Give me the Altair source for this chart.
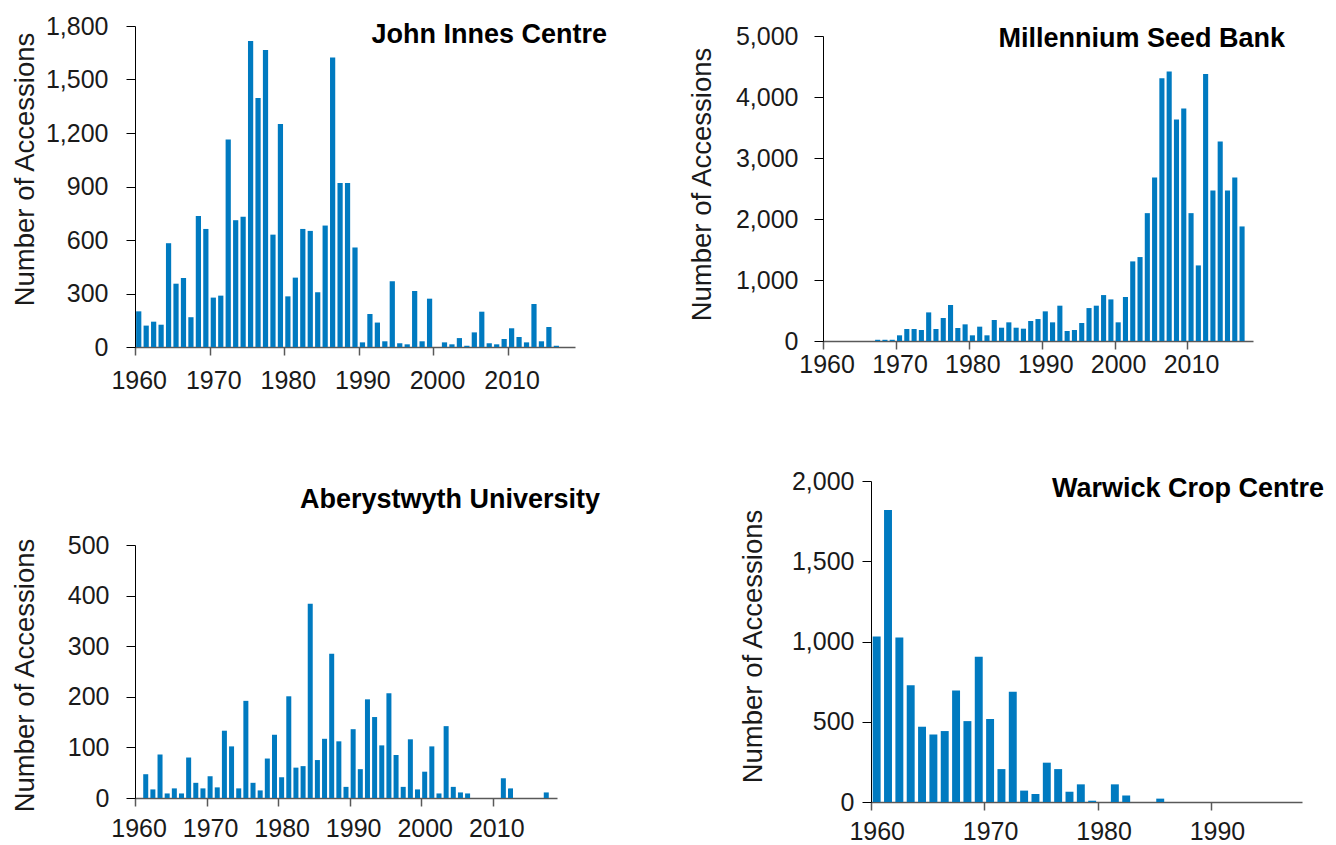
import altair as alt
import pandas as pd

# ---------------- data ----------------
years_jic = list(range(1960, 2017))
values_jic = [200, 120, 142, 125, 582, 355, 387, 167, 735, 662,
              277, 288, 1164, 711, 730, 1716, 1396, 1665, 630, 1250,
              284, 389, 662, 651, 307, 681, 1624, 919, 919, 558,
              26, 185, 137, 32, 369, 21, 15, 314, 32, 271,
              0, 26, 15, 50, 7, 82, 198, 21, 15, 45,
              105, 56, 26, 241, 32, 112, 7]

years_msb = list(range(1960, 2018))
values_msb = [0, 0, 0, 0, 0, 0, 0, 20, 20, 20,
              93, 197, 197, 180, 469, 197, 377, 590, 213, 273,
              93, 235, 93, 344, 218, 306, 218, 202, 328, 360,
              486, 306, 579, 164, 180, 295, 540, 579, 753, 682,
              306, 721, 1305, 1376, 2096, 2680, 4307, 4416, 3630, 3810,
              2096, 1239, 4378, 2467, 3270, 2467, 2680, 1878]

years_aber = list(range(1960, 2018))
values_aber = [0, 47, 17, 86, 9, 19, 9, 80, 30, 19,
               43, 21, 133, 102, 19, 192, 30, 15, 78, 125,
               41, 201, 60, 63, 384, 75, 117, 285, 112, 22,
               136, 57, 195, 160, 104, 207, 85, 22, 116, 17,
               52, 102, 9, 142, 22, 11, 9, 0, 0, 0,
               0, 39, 19, 0, 0, 0, 0, 11]

years_wcc = list(range(1960, 1986))
values_wcc = [1031, 1819, 1025, 728, 469, 421, 442, 695, 504, 905,
              517, 205, 687, 71, 50, 245, 205, 64, 110, 8,
              0, 110, 41, 0, 0, 21]

titles = ["John Innes Centre", "Millennium Seed Bank",
          "Aberystwyth University", "Warwick Crop Centre"]
y_title = "Number of Accessions"

FONT = "Liberation Sans"
BAR = "#007AC0"
TXT = "#1a1a1a"


def panel(years, values, title, xmax, xticks, ymax, ystep, width, height,
          ytop, xlabpad, xlaboff, ylabpad, tdx, tdy, ytx, yty):
    df = pd.DataFrame({"year": years, "count": values})
    return (
        alt.Chart(
            df,
            title=alt.TitleParams(
                text=title, anchor="end", frame="group", orient="top",
                font=FONT, fontSize=27, fontWeight="bold", color="#000000",
                baseline="alphabetic", offset=0, dx=tdx, dy=tdy,
            ),
        )
        .transform_calculate(x0="datum.year + 0.15", x1="datum.year + 0.85")
        .mark_bar(color=BAR)
        .encode(
            x=alt.X(
                "x0:Q",
                scale=alt.Scale(domain=[1960, xmax], nice=False, zero=False),
                axis=alt.Axis(
                    values=xticks, format="d", title=None, grid=False,
                    labelFont=FONT, labelFontSize=25, labelColor=TXT,
                    labelFlush=False, labelOverlap=False,
                    labelPadding=xlabpad, labelOffset=xlaboff, tickSize=8,
                    domainColor="#595959", tickColor="#595959",
                    domainWidth=1.5, tickWidth=1.5,
                ),
            ),
            x2="x1:Q",
            y=alt.Y(
                "count:Q",
                scale=alt.Scale(domain=[0, ymax], nice=False, range=[height, ytop]),
                axis=alt.Axis(
                    values=list(range(0, ymax + 1, ystep)), format=",d",
                    title=y_title, grid=False,
                    labelFont=FONT, labelFontSize=25, labelColor=TXT,
                    labelPadding=ylabpad, tickSize=9,
                    domainColor="#000000", tickColor="#000000",
                    titleFont=FONT, titleFontSize=27.5, titleFontWeight="normal",
                    titleColor=TXT, titleAngle=270, titleAlign="center",
                    titleBaseline="middle", titleX=ytx, titleY=yty,
                ),
            ),
            y2=alt.datum(0),
        )
        .properties(width=width, height=height)
    )


dec3 = [1960, 1970, 1980, 1990, 2000, 2010]
p1 = panel(years_jic, values_jic, titles[0], 2019, dec3, 1800, 300, 440, 321, 0,
           13, 3.7, 18, 32, 56, -110, 143)
p2 = panel(years_msb, values_msb, titles[1], 2019, dec3, 5000, 1000, 430, 315, 10,
           3, 3.6, 16, 32, 50, -121, 158)
p3 = panel(years_aber, values_aber, titles[2], 2019, dec3, 500, 100, 422, 317, 64,
           10, 3.6, 17, 43, 53.5, -110, 194)
p4 = panel(years_wcc, values_wcc, titles[3], 1998, [1960, 1970, 1980, 1990], 2000, 500,
           431, 321, 0, 9, 5.7, 8, 22, 55, -118, 165)

row1 = alt.hconcat(p1, p2, spacing=248, bounds="flush")
row2 = alt.hconcat(p3, p4, spacing=314, bounds="flush")

chart = (
    alt.vconcat(row1, row2, spacing=76, bounds="full")
    .properties(padding={"left": 3, "top": 6, "right": 0, "bottom": 0},
                background="white")
    .configure_view(strokeWidth=0, strokeOpacity=0)
)

chart.save("out.html", embed_options={"renderer": "svg", "actions": False})
